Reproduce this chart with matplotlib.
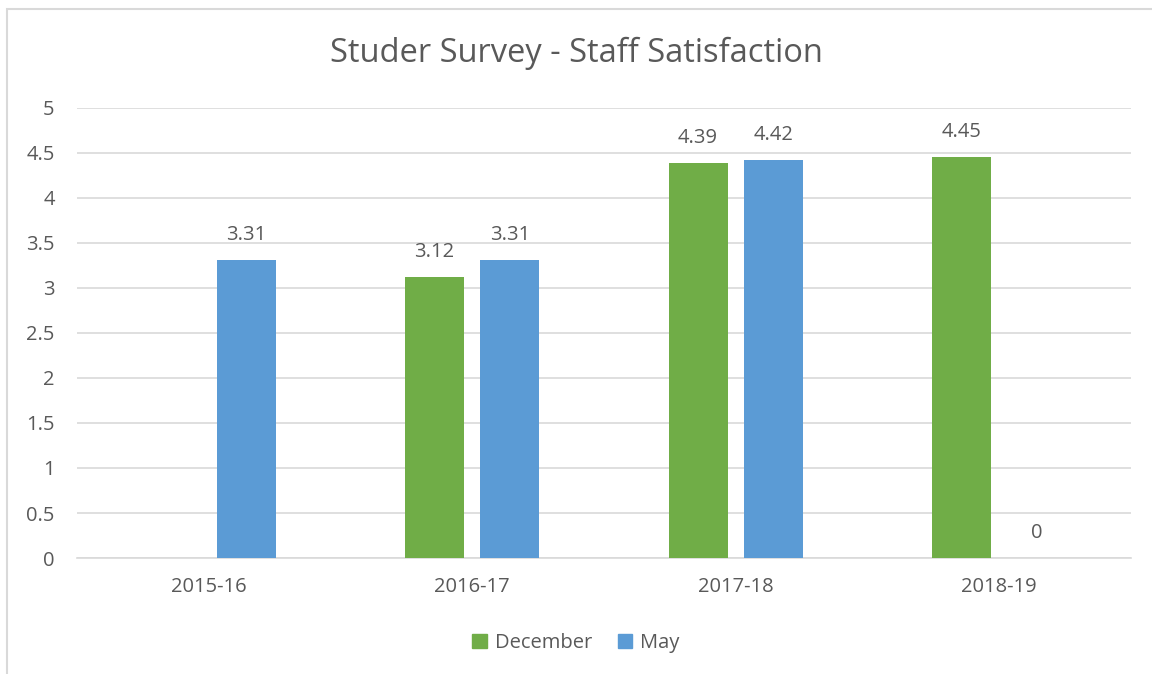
import matplotlib.pyplot as plt
import numpy as np
from matplotlib.patches import Rectangle

categories = ["2015-16", "2016-17", "2017-18", "2018-19"]
december = [None, 3.12, 4.39, 4.45]
may = [3.31, 3.31, 4.42, 0]
green = "#70AD47"
blue = "#5B9BD5"
textcol = "#595959"

plt.rcParams['font.family'] = ['Open Sans', 'DejaVu Sans']

fig = plt.figure(figsize=(11.52, 6.74), dpi=100)
ax = fig.add_axes([0.0668, 0.1721, 0.915, 0.6677])

# chart border (cropped at right / bottom)
fig.patches.append(Rectangle((7/1152, -0.05), 1.1, 1 - 9/674 + 0.05, transform=fig.transFigure,
                             fill=False, edgecolor="#D9D9D9", linewidth=1.5))

x = np.arange(len(categories))
w = 0.224
off = 0.143
for i in range(len(categories)):
    if december[i] is not None:
        ax.bar(x[i] - off, december[i], w, color=green, zorder=3)
        ax.annotate("%g" % december[i], (x[i] - off, december[i]), xytext=(0, 18),
                    textcoords="offset points", ha="center", va="center",
                    fontsize=14.5, color=textcol)
    if may[i] is not None:
        ax.bar(x[i] + off, may[i], w, color=blue, zorder=3)
        ax.annotate("%g" % may[i], (x[i] + off, may[i]), xytext=(0, 18),
                    textcoords="offset points", ha="center", va="center",
                    fontsize=14.5, color=textcol)

ax.set_xlim(-0.5, 3.5)
ax.set_ylim(0, 5)
ax.set_yticks(np.arange(0, 5.01, 0.5))
ax.set_yticklabels(["%g" % v for v in np.arange(0, 5.01, 0.5)])
ax.set_xticks(x)
ax.set_xticklabels(categories)
ax.tick_params(axis="both", length=0, labelsize=14.5, colors=textcol)
ax.tick_params(axis="x", pad=14)
ax.tick_params(axis="y", pad=16)
ax.grid(axis="y", color="#D9D9D9", linewidth=1.2, zorder=0)
for s in ["top", "right", "left"]:
    ax.spines[s].set_visible(False)
ax.spines["bottom"].set_color("#D9D9D9")
ax.spines["bottom"].set_linewidth(1.2)

fig.text(0.5, 1 - 53/674, "Studer Survey - Staff Satisfaction", ha="center", va="center",
         fontsize=23.5, color=textcol)

handles = [Rectangle((0, 0), 1, 1, color=green), Rectangle((0, 0), 1, 1, color=blue)]
fig.legend(handles, ["December", "May"], loc="center", bbox_to_anchor=(0.5, 1 - 643/674),
           ncol=2, frameon=False, fontsize=14.5, labelcolor=textcol, handlelength=0.7,
           handleheight=0.7, columnspacing=1.3, handletextpad=0.4)

fig.savefig("out.png", dpi=100)
